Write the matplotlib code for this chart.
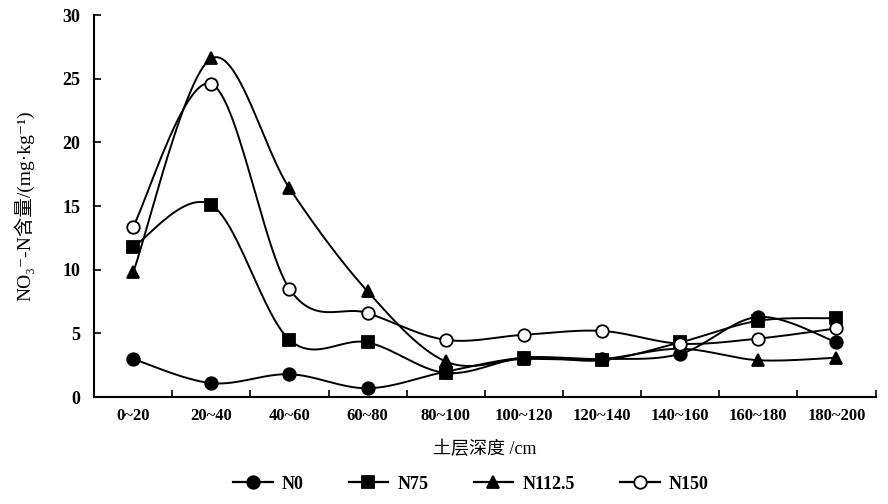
import numpy as np
import matplotlib
matplotlib.use('Agg')
import matplotlib.pyplot as plt
from matplotlib.lines import Line2D

plt.rcParams['font.family'] = ['Liberation Serif', 'Noto Sans CJK SC', 'DejaVu Sans']
plt.rcParams['font.weight'] = 'bold'

# soil layer categories and nitrate content for each N rate
depths = ['0~20', '20~40', '40~60', '60~80', '80~100', '100~120',
          '120~140', '140~160', '160~180', '180~200']
n0 = [3.0, 1.1, 1.8, 0.7, 2.0, 3.1, 3.0, 3.4, 6.3, 4.3]
n75 = [11.8, 15.1, 4.5, 4.3, 1.9, 3.1, 2.9, 4.3, 6.0, 6.2]
n112 = [9.8, 26.6, 16.4, 8.3, 2.8, 3.0, 3.0, 3.8, 2.9, 3.1]
n150 = [13.4, 24.6, 8.5, 6.6, 4.5, 4.9, 5.2, 4.2, 4.6, 5.4]


def smooth(x, y, n=30):
    """ catmull-rom curve through the points, like the excel smoothed line """
    x = np.asarray(x, float)
    y = np.asarray(y, float)
    px = np.concatenate([[x[0]], x, [x[-1]]])
    py = np.concatenate([[y[0]], y, [y[-1]]])
    xs, ys = [], []
    t = np.linspace(0, 1, n)
    for i in range(1, len(px) - 2):
        p0, p1, p2, p3 = [np.array([px[j], py[j]]) for j in (i - 1, i, i + 1, i + 2)]
        c1 = p1 + (p2 - p0) / 6
        c2 = p2 - (p3 - p1) / 6
        b = ((1 - t) ** 3)[:, None] * p1 + (3 * (1 - t) ** 2 * t)[:, None] * c1 \
            + (3 * (1 - t) * t ** 2)[:, None] * c2 + (t ** 3)[:, None] * p2
        xs.extend(b[:, 0])
        ys.extend(b[:, 1])
    return np.array(xs), np.array(ys)


fig = plt.figure(figsize=(8.88, 5.04), dpi=100)
ax = fig.add_axes([0.106, 0.212, 0.880, 0.758])

xpos = np.arange(len(depths))
series = [(n0, 'N0', 'o', 'black'), (n75, 'N75', 's', 'black'),
          (n112, 'N112.5', '^', 'black'), (n150, 'N150', 'o', 'white')]
handles = []
for vals, name, mk, fc in series:
    sx, sy = smooth(xpos, vals)
    ax.plot(sx, sy, color='black', lw=1.4, zorder=2)
    ax.plot(xpos, vals, ls='none', marker=mk, ms=9, mfc=fc, mec='black', mew=1.3, zorder=3)
    handles.append(Line2D([], [], color='black', lw=1.6, marker=mk, ms=9, mfc=fc, mec='black', mew=1.3, label=name))

ax.set_xlim(-0.5, len(depths) - 0.5)
ax.set_ylim(0, 30)
ax.set_yticks([0, 5, 10, 15, 20, 25, 30])
ax.set_xticks(xpos)
ax.set_xticklabels(depths)
ax.set_xticks(np.arange(len(depths) + 1) - 0.5, minor=True)
ax.tick_params(axis='x', which='major', length=0, labelsize=12, pad=8)
ax.tick_params(axis='x', which='minor', direction='in', length=5, width=1.2)
ax.tick_params(axis='y', direction='in', length=5, width=1.2, labelsize=13, pad=10)
for s in ['top', 'right']:
    ax.spines[s].set_visible(False)
for s in ['left', 'bottom']:
    ax.spines[s].set_linewidth(1.5)

ax.set_ylabel('NO₃⁻-N含量/(mg·kg⁻¹)', fontsize=14, labelpad=20)
ax.set_xlabel('土层深度 /cm', fontsize=13, labelpad=12)

fig.legend(handles=handles, loc='lower center', bbox_to_anchor=(0.53, -0.01), ncol=4,
           frameon=False, fontsize=13, handlelength=2.2, columnspacing=2.5, handletextpad=0.5)

fig.savefig('out.png', dpi=100)
